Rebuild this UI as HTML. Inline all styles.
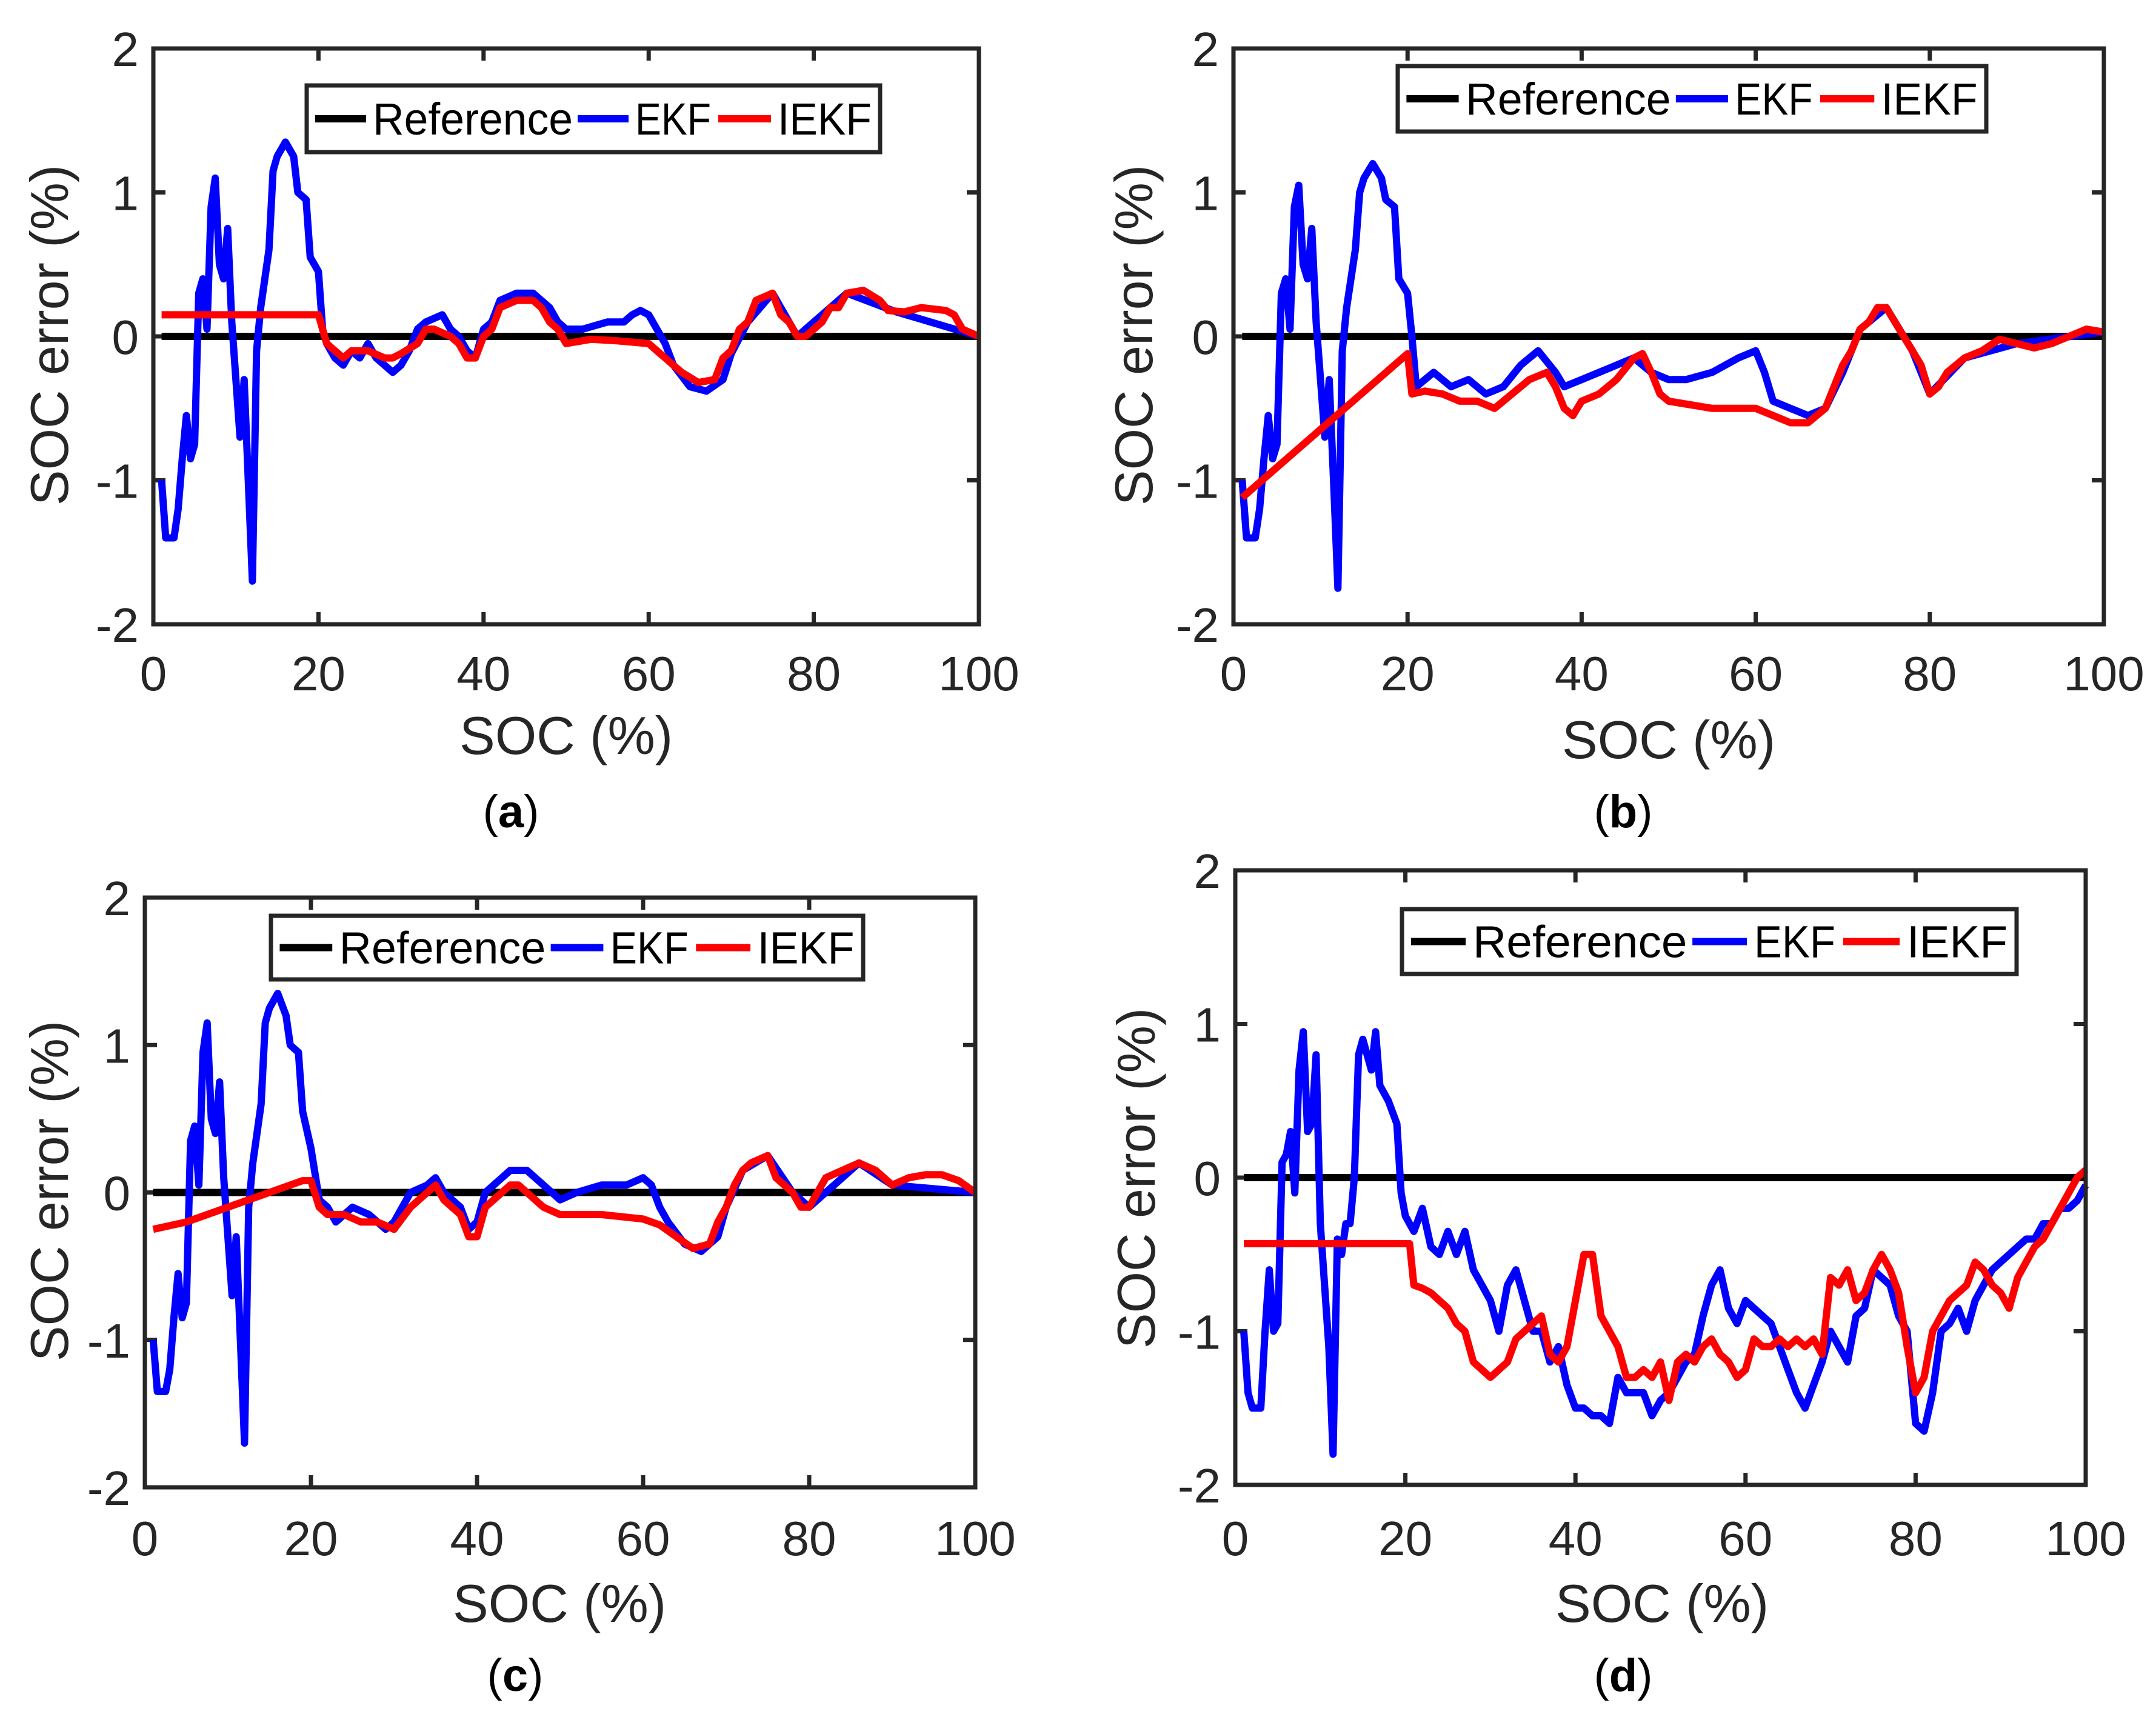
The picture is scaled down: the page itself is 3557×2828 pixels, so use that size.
<!DOCTYPE html>
<html><head><meta charset="utf-8"><style>
html,body{margin:0;padding:0;background:#fff}
svg{display:block}
text{font-family:"Liberation Sans",sans-serif}
</style></head><body>
<svg id="fig" width="3557" height="2828" viewBox="0 0 3557 2828" xmlns="http://www.w3.org/2000/svg"></svg>
<script>
const xTicks=[0,20,40,60,80,100];
const yTicks=[-2,-1,0,1,2];
const seriesNames=["Reference","EKF","IEKF"];
const refData=[[1,0],[100,0]];
const ekfA=[[1,-1.0],[1.5,-1.4],[2.5,-1.4],[3,-1.2],[3.5,-0.85],[4,-0.55],[4.5,-0.85],[5,-0.75],[5.5,0.3],[6,0.4],[6.5,0.05],[7,0.9],[7.5,1.1],[8,0.5],[8.5,0.4],[9,0.75],[9.5,0.1],[10,-0.3],[10.5,-0.7],[11,-0.3],[11.5,-1.0],[12,-1.7],[12.5,-0.1],[13,0.2],[14,0.6],[14.5,1.15],[15,1.25],[16,1.35],[17,1.25],[17.5,1.0],[18.5,0.95],[19,0.55],[20,0.45],[20.5,0.05],[21,-0.05],[22,-0.15],[23,-0.2],[24,-0.1],[25,-0.15],[26,-0.05],[27,-0.15],[28,-0.2],[29,-0.25],[30,-0.2],[31,-0.1],[32,0.05],[33,0.1],[35,0.15],[36,0.05],[37,0.0],[38,-0.1],[39,-0.15],[40,0.05],[41,0.1],[42,0.25],[44,0.3],[46,0.3],[48,0.2],[49,0.1],[50,0.05],[52,0.05],[55,0.1],[57,0.1],[58,0.15],[59,0.18],[60,0.15],[61,0.05],[62,-0.05],[63,-0.2],[65,-0.35],[67,-0.38],[69,-0.3],[70,-0.12],[72,0.1],[75,0.3],[78,0.0],[84,0.3],[90,0.17],[100,0.0]];
const iekfA=[[1,0.15],[20,0.15],[21,-0.05],[22,-0.1],[23,-0.15],[24,-0.1],[26,-0.1],[28,-0.15],[29,-0.15],[30,-0.12],[32,-0.05],[33,0.05],[34,0.05],[36,0.0],[37,-0.05],[38,-0.15],[39,-0.15],[40,0.0],[41,0.05],[42,0.2],[44,0.25],[46,0.25],[47,0.2],[48,0.1],[49,0.05],[50,-0.05],[53,-0.02],[56,-0.03],[60,-0.05],[61,-0.1],[62,-0.15],[64,-0.25],[66,-0.32],[68,-0.3],[69,-0.15],[70,-0.1],[71,0.05],[72,0.1],[73,0.25],[75,0.3],[76,0.15],[77,0.1],[78,0.0],[79,0.0],[80,0.05],[81,0.1],[82,0.2],[83,0.2],[84,0.3],[86,0.32],[88,0.25],[89,0.18],[91,0.17],[93,0.2],[96,0.18],[97,0.15],[98,0.05],[100,0.0]];
const ekfB=[[1,-1.0],[1.5,-1.4],[2.5,-1.4],[3,-1.2],[3.5,-0.85],[4,-0.55],[4.5,-0.85],[5,-0.75],[5.5,0.3],[6,0.4],[6.5,0.05],[7,0.9],[7.5,1.05],[8,0.5],[8.5,0.4],[9,0.75],[9.5,0.1],[10,-0.3],[10.5,-0.7],[11,-0.3],[11.5,-1.0],[12,-1.75],[12.5,-0.1],[13,0.2],[14,0.6],[14.5,1.0],[15,1.1],[16,1.2],[17,1.1],[17.5,0.95],[18.5,0.9],[19,0.4],[20,0.3],[20.5,0.0],[21,-0.35],[22,-0.3],[23,-0.25],[25,-0.35],[27,-0.3],[29,-0.4],[31,-0.35],[33,-0.2],[35,-0.1],[37,-0.25],[38,-0.35],[40,-0.3],[42,-0.25],[44,-0.2],[46,-0.15],[48,-0.25],[50,-0.3],[52,-0.3],[55,-0.25],[58,-0.15],[60,-0.1],[61,-0.25],[62,-0.45],[64,-0.5],[66,-0.55],[68,-0.5],[70,-0.25],[72,0.05],[75,0.2],[78,-0.1],[80,-0.4],[84,-0.15],[90,-0.05],[100,0.03]];
const iekfB=[[1,-1.12],[20,-0.12],[20.5,-0.4],[22,-0.38],[24,-0.4],[26,-0.45],[28,-0.45],[30,-0.5],[32,-0.4],[34,-0.3],[36,-0.25],[37,-0.35],[38,-0.5],[39,-0.55],[40,-0.45],[42,-0.4],[44,-0.3],[46,-0.15],[47,-0.12],[48,-0.25],[49,-0.4],[50,-0.45],[55,-0.5],[60,-0.5],[62,-0.55],[64,-0.6],[66,-0.6],[68,-0.5],[69,-0.35],[70,-0.2],[71,-0.1],[72,0.05],[73,0.1],[74,0.2],[75,0.2],[76,0.1],[77,0.0],[78,-0.1],[79,-0.2],[80,-0.4],[81,-0.35],[82,-0.25],[84,-0.15],[86,-0.1],[88,-0.02],[90,-0.05],[92,-0.08],[94,-0.05],[96,0.0],[98,0.05],[100,0.03]];
const ekfC=[[1,-1.0],[1.5,-1.35],[2.5,-1.35],[3,-1.2],[3.5,-0.85],[4,-0.55],[4.5,-0.85],[5,-0.75],[5.5,0.35],[6,0.45],[6.5,0.05],[7,0.95],[7.5,1.15],[8,0.5],[8.5,0.4],[9,0.75],[9.5,0.1],[10,-0.3],[10.5,-0.7],[11,-0.3],[11.5,-1.0],[12,-1.7],[12.5,-0.1],[13,0.2],[14,0.6],[14.5,1.15],[15,1.25],[16,1.35],[17,1.2],[17.5,1.0],[18.5,0.95],[19,0.55],[20,0.3],[21,-0.05],[22,-0.1],[23,-0.2],[25,-0.1],[27,-0.15],[29,-0.25],[30,-0.2],[32,0.0],[34,0.05],[35,0.1],[36,0.0],[38,-0.1],[39,-0.25],[40,-0.2],[41,0.0],[43,0.1],[44,0.15],[46,0.15],[48,0.05],[50,-0.05],[52,0.0],[55,0.05],[58,0.05],[60,0.1],[61,0.05],[62,-0.1],[63,-0.2],[65,-0.35],[67,-0.4],[69,-0.3],[70,-0.1],[72,0.15],[75,0.25],[78,0.0],[80,-0.1],[86,0.2],[90,0.05],[100,0.0]];
const iekfC=[[1,-0.25],[5,-0.2],[10,-0.1],[15,0.0],[19,0.08],[20,0.08],[21,-0.1],[22,-0.15],[24,-0.15],[26,-0.2],[28,-0.2],[30,-0.25],[32,-0.1],[34,0.0],[35,0.05],[36,-0.05],[38,-0.15],[39,-0.3],[40,-0.3],[41,-0.1],[42,-0.05],[44,0.05],[45,0.05],[47,-0.05],[48,-0.1],[50,-0.15],[55,-0.15],[60,-0.18],[62,-0.22],[64,-0.3],[66,-0.38],[68,-0.35],[69,-0.2],[70,-0.1],[71,0.05],[72,0.15],[73,0.2],[75,0.25],[76,0.1],[77,0.05],[78,0.0],[79,-0.1],[80,-0.1],[81,0.0],[82,0.1],[84,0.15],[86,0.2],[88,0.15],[90,0.05],[92,0.1],[94,0.12],[96,0.12],[98,0.08],[100,0.0]];
const ekfD=[[1,-1.0],[1.5,-1.4],[2,-1.5],[3,-1.5],[3.5,-1.0],[4,-0.6],[4.5,-1.0],[5,-0.95],[5.5,0.1],[6,0.15],[6.5,0.3],[7,-0.1],[7.5,0.7],[8,0.95],[8.5,0.3],[9,0.35],[9.5,0.8],[10,-0.3],[11,-1.1],[11.5,-1.8],[12,-0.4],[12.5,-0.5],[13,-0.3],[13.5,-0.3],[14,0.0],[14.5,0.8],[15,0.9],[16,0.7],[16.5,0.95],[17,0.6],[18,0.5],[19,0.35],[19.5,-0.1],[20,-0.25],[21,-0.35],[22,-0.2],[23,-0.45],[24,-0.5],[25,-0.35],[26,-0.5],[27,-0.35],[28,-0.6],[29,-0.7],[30,-0.8],[31,-1.0],[32,-0.7],[33,-0.6],[34,-0.8],[35,-1.0],[36,-1.0],[37,-1.2],[38,-1.1],[39,-1.35],[40,-1.5],[41,-1.5],[42,-1.55],[43,-1.55],[44,-1.6],[45,-1.3],[46,-1.4],[47,-1.4],[48,-1.4],[49,-1.55],[50,-1.45],[51,-1.4],[52,-1.3],[53,-1.2],[54,-1.15],[55,-0.9],[56,-0.7],[57,-0.6],[58,-0.85],[59,-0.95],[60,-0.8],[61,-0.85],[62,-0.9],[63,-0.95],[64,-1.1],[65,-1.25],[66,-1.4],[67,-1.5],[68,-1.35],[69,-1.2],[70,-1.0],[71,-1.1],[72,-1.2],[73,-0.9],[74,-0.85],[75,-0.6],[76,-0.65],[77,-0.7],[78,-0.9],[79,-1.0],[80,-1.6],[81,-1.65],[82,-1.4],[83,-1.0],[84,-0.95],[85,-0.85],[86,-1.0],[87,-0.8],[88,-0.7],[89,-0.6],[90,-0.55],[91,-0.5],[92,-0.45],[93,-0.4],[94,-0.4],[95,-0.3],[96,-0.3],[97,-0.2],[98,-0.2],[99,-0.15],[100,-0.05]];
const iekfD=[[1,-0.43],[20.5,-0.43],[21,-0.7],[22,-0.72],[23,-0.75],[24,-0.8],[25,-0.85],[26,-0.95],[27,-1.0],[28,-1.2],[29,-1.25],[30,-1.3],[31,-1.25],[32,-1.2],[33,-1.05],[34,-1.0],[35,-0.95],[36,-0.9],[37,-1.15],[38,-1.2],[39,-1.1],[40,-0.8],[41,-0.5],[42,-0.5],[43,-0.9],[44,-1.0],[45,-1.1],[46,-1.3],[47,-1.3],[48,-1.25],[49,-1.3],[50,-1.2],[51,-1.45],[52,-1.2],[53,-1.15],[54,-1.2],[55,-1.1],[56,-1.05],[57,-1.15],[58,-1.2],[59,-1.3],[60,-1.25],[61,-1.05],[62,-1.1],[63,-1.1],[64,-1.05],[65,-1.1],[66,-1.05],[67,-1.1],[68,-1.05],[69,-1.15],[70,-0.65],[71,-0.7],[72,-0.6],[73,-0.8],[74,-0.75],[75,-0.6],[76,-0.5],[77,-0.6],[78,-0.75],[79,-1.1],[80,-1.4],[81,-1.3],[82,-1.0],[83,-0.9],[84,-0.8],[85,-0.75],[86,-0.7],[87,-0.55],[88,-0.6],[89,-0.7],[90,-0.75],[91,-0.85],[92,-0.65],[93,-0.55],[94,-0.45],[95,-0.4],[96,-0.3],[97,-0.2],[98,-0.1],[99,0.0],[100,0.05]];

const panels=[
 {id:"a",x0:253,x1:1615,y0:80,y1:1030,lg:[506,141,946,110],xt:1110,xl:[934,1212],yl:[80,553],cap:[843,1365],ekf:ekfA,iekf:iekfA},
 {id:"b",x0:2035,x1:3471,y0:80,y1:1030,lg:[2306,109,971,108],xt:1110,xl:[2753,1219],yl:[1869,553],cap:[2678,1365],ekf:ekfB,iekf:iekfB},
 {id:"c",x0:239,x1:1609,y0:1481,y1:2454,lg:[447,1511,977,105],xt:2537,xl:[923,2644],yl:[80,1965],cap:[850,2790],ekf:ekfC,iekf:iekfC},
 {id:"d",x0:2038,x1:3441,y0:1436,y1:2450,lg:[2313,1500,1014,107],xt:2537,xl:[2742,2644],yl:[1873,1944],cap:[2678,2790],ekf:ekfD,iekf:iekfD}
];
const NS="http://www.w3.org/2000/svg";
const svg=document.getElementById("fig");
function mk(tag,attrs,parent){const e=document.createElementNS(NS,tag);for(const k in attrs)e.setAttribute(k,attrs[k]);(parent||svg).appendChild(e);return e;}
panels.forEach(p=>{
 const g=mk("g",{});
 
 
 const sx=v=>p.x0+(v-0)/(100-0)*(p.x1-p.x0);
 const sy=v=>p.y1-(v+2)/4*(p.y1-p.y0);
 const tl=20;
 xTicks.forEach(t=>{
  const X=sx(t);
  const tk=mk("path",{d:`M${X},${p.y1}V${p.y1-tl}M${X},${p.y0}V${p.y0+tl}`,stroke:"#262626","stroke-width":7},g);
  
  
  const tx=mk("text",{x:X,y:p.xt+29,"text-anchor":"middle","font-size":80,fill:"#262626"},g);
  tx.textContent=t;
  
  
 });
 yTicks.forEach(t=>{
  const Y=sy(t);
  const tk=mk("path",{d:`M${p.x0},${Y}H${p.x0+tl}M${p.x1},${Y}H${p.x1-tl}`,stroke:"#262626","stroke-width":7},g);
  
  
  const tx=mk("text",{x:p.x0-24,y:Y+29,"text-anchor":"end","font-size":80,fill:"#262626"},g);
  tx.textContent=t;
  
  
 });
 const line=(data,color,name)=>{
  const d=data.map((pt,i)=>(i?"L":"M")+sx(pt[0]).toFixed(1)+","+sy(pt[1]).toFixed(1)).join("");
  const e=mk("path",{d:d,fill:"none",stroke:color,"stroke-width":12,"stroke-linejoin":"round"},g);
  
  
 };
 line(refData,"#000","reference-line");
 line(p.ekf,"#0000ff","ekf-line");
 line(p.iekf,"#ff0000","iekf-line");
 const fr=mk("rect",{x:p.x0,y:p.y0,width:p.x1-p.x0,height:p.y1-p.y0,fill:"none",stroke:"#262626","stroke-width":7},g);
 
 
 const xl=mk("text",{x:p.xl[0],y:p.xl[1]+32,"text-anchor":"middle","font-size":88,fill:"#262626"},g);
 xl.textContent="SOC (%)";
 
 
 const yl=mk("text",{x:0,y:0,"text-anchor":"middle","font-size":88,fill:"#262626",transform:`translate(${p.yl[0]+32},${p.yl[1]}) rotate(-90)`},g);
 yl.textContent="SOC error (%)";
 
 
 const cap=mk("text",{x:p.cap[0],y:p.cap[1],"text-anchor":"middle","font-size":76,"font-family":"Liberation Serif, serif",fill:"#000"},g);
 cap.innerHTML='(<tspan font-weight="bold">'+p.id+'</tspan>)';
 
 
 const [lx,ly,lw,lh]=p.lg; const f=lw/946;
 const lg=mk("g",{},g);
 
 
 mk("rect",{x:lx,y:ly,width:lw,height:lh,fill:"#fff",stroke:"#262626","stroke-width":7},lg);
 const items=[[14,98,109,330,"#000"],[447,531,542,125,"#0000ff"],[679,766,777,155,"#ff0000"]];
 items.forEach((it,i)=>{
  const s=mk("line",{x1:lx+it[0]*f,x2:lx+it[1]*f,y1:ly+lh/2,y2:ly+lh/2,stroke:it[4],"stroke-width":12},lg);
  
  
  const t=mk("text",{x:lx+it[2]*f,y:ly+lh/2+26,"font-size":74,fill:"#000",textLength:it[3]*f,lengthAdjust:"spacingAndGlyphs"},lg);
  t.textContent=seriesNames[i];
  
  
 });
});
</script>
</body></html>
